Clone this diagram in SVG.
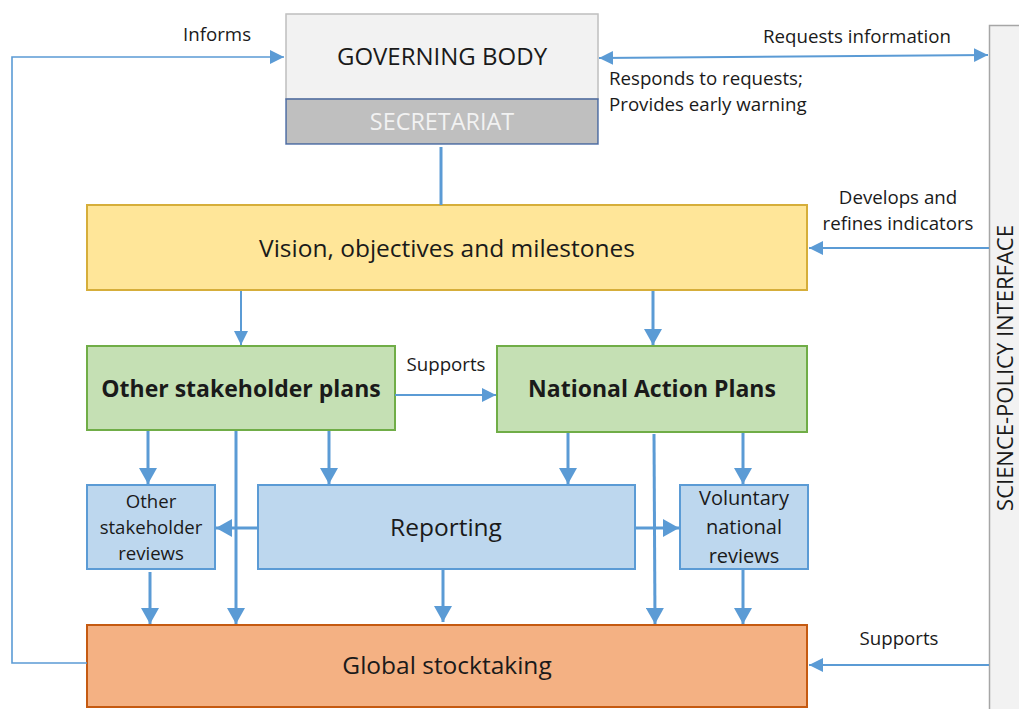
<svg xmlns="http://www.w3.org/2000/svg" width="1019" height="709" viewBox="0 0 1019 709">
  <style>
    text { font-family: "Open Sans", "Noto Sans", sans-serif; fill: #1a1a1a; }
    .lbl { font-size: 18.7px; }
    .node { font-size: 24.5px; text-anchor: middle; }
    .bold { font-weight: bold; font-size: 23px; }
    .small { font-size: 18.6px; text-anchor: middle; }
    .thick { stroke: #5B9BD5; stroke-width: 3; fill: none; }
    .thin { stroke: #5B9BD5; stroke-width: 2; fill: none; }
    .hair { stroke: #5B9BD5; stroke-width: 1.6; fill: none; }
  </style>
  <defs>
    <marker id="big" markerUnits="userSpaceOnUse" markerWidth="18" markerHeight="18" viewBox="0 0 18 18" refX="16" refY="9" orient="auto-start-reverse">
      <path d="M0,0 L16,9 L0,18 Z" fill="#5B9BD5"/>
    </marker>
    <marker id="mid" markerUnits="userSpaceOnUse" markerWidth="16" markerHeight="16" viewBox="0 0 16 16" refX="14" refY="8" orient="auto-start-reverse">
      <path d="M0,1 L14,8 L0,15 Z" fill="#5B9BD5"/>
    </marker>
  </defs>

  <!-- Science-policy interface band -->
  <g id="spi">
    <rect x="989.5" y="25.5" width="40" height="690" fill="#F2F2F2" stroke="#A6A6A6" stroke-width="1.5"/>
    <text class="node" style="font-size:22px" transform="translate(1013,368) rotate(-90)">SCIENCE-POLICY INTERFACE</text>
  </g>

  <!-- Governing body with secretariat -->
  <g id="governing-body">
    <rect x="286" y="14" width="312" height="85" fill="#F2F2F2" stroke="#BFBFBF" stroke-width="1.5"/>
    <text class="node" x="442" y="65" style="font-size:24px">GOVERNING BODY</text>
  </g>
  <g id="secretariat">
    <rect x="286" y="99" width="312" height="45" fill="#BFBFBF" stroke="#2F5597" stroke-width="1.5" stroke-opacity="0.8"/>
    <text class="node" x="442" y="130" style="fill:#F2F2F2;font-size:23.4px">SECRETARIAT</text>
  </g>

  <g id="vision">
    <rect x="87" y="205" width="720" height="85" fill="#FFE699" stroke="#D6AE3A" stroke-width="2"/>
    <text class="node" x="447" y="257">Vision, objectives and milestones</text>
  </g>

  <g id="other-plans">
    <rect x="87" y="346" width="308" height="84" fill="#C5E0B4" stroke="#70AD47" stroke-width="2"/>
    <text class="node bold" x="241" y="397">Other stakeholder plans</text>
  </g>

  <g id="national-plans">
    <rect x="497" y="346" width="310" height="86" fill="#C5E0B4" stroke="#70AD47" stroke-width="2"/>
    <text class="node bold" x="652" y="397">National Action Plans</text>
  </g>

  <g id="other-reviews">
    <rect x="87" y="485" width="128" height="84" fill="#BDD7EE" stroke="#5B9BD5" stroke-width="2"/>
    <text class="small" x="151" y="508">Other</text>
    <text class="small" x="151" y="534">stakeholder</text>
    <text class="small" x="151" y="560">reviews</text>
  </g>

  <g id="reporting">
    <rect x="258" y="485" width="377" height="84" fill="#BDD7EE" stroke="#5B9BD5" stroke-width="2"/>
    <text class="node" x="446" y="536">Reporting</text>
  </g>

  <g id="voluntary-reviews">
    <rect x="680" y="485" width="128" height="84" fill="#BDD7EE" stroke="#5B9BD5" stroke-width="2"/>
    <text class="small" x="744" y="505" style="font-size:20px">Voluntary</text>
    <text class="small" x="744" y="534" style="font-size:20px">national</text>
    <text class="small" x="744" y="563" style="font-size:20px">reviews</text>
  </g>

  <g id="global-stocktaking">
    <rect x="87" y="625" width="720" height="82" fill="#F4B183" stroke="#C55A11" stroke-width="2"/>
    <text class="node" x="447" y="674">Global stocktaking</text>
  </g>

  <!-- Connectors -->
  <g id="connectors">
    <!-- feedback loop from stocktaking to governing body -->
    <path class="hair" d="M87,663 H12 V57 H284" marker-end="url(#mid)"/>
    <!-- governing body <-> science-policy interface -->
    <path class="thin" d="M599,58 L988,55" marker-start="url(#mid)" marker-end="url(#mid)"/>
    <!-- secretariat to vision -->
    <path class="thick" d="M441,147 V205"/>
    <!-- science-policy interface to vision -->
    <path class="thin" d="M989,248 H809" marker-end="url(#mid)"/>
    <!-- vision to plans -->
    <path class="thin" d="M241,291 V345" marker-end="url(#mid)"/>
    <path class="thick" d="M653,291 V345" marker-end="url(#big)"/>
    <!-- other plans supports national plans -->
    <path class="thin" d="M395,395 H496" marker-end="url(#mid)"/>
    <!-- other plans downward -->
    <path class="thick" d="M148,431 V484" marker-end="url(#big)"/>
    <path class="thick" d="M236,431 V624" marker-end="url(#big)"/>
    <path class="thick" d="M329,431 V484" marker-end="url(#big)"/>
    <!-- national plans downward -->
    <path class="thick" d="M568,433 V484" marker-end="url(#big)"/>
    <path class="thick" d="M654,434 L655,624" marker-end="url(#big)"/>
    <path class="thick" d="M743,433 V484" marker-end="url(#big)"/>
    <!-- reporting to reviews -->
    <path class="thick" d="M257,528 H216" marker-end="url(#big)"/>
    <path class="thick" d="M636,528 H679" marker-end="url(#big)"/>
    <!-- into global stocktaking -->
    <path class="thick" d="M150,572 V624" marker-end="url(#big)"/>
    <path class="thick" d="M443,570 V622" marker-end="url(#big)"/>
    <path class="thick" d="M743,570 V624" marker-end="url(#big)"/>
    <!-- science-policy interface supports stocktaking -->
    <path class="thin" d="M989,665 H809" marker-end="url(#mid)"/>
  </g>

  <!-- Connector labels -->
  <g id="labels">
    <text class="lbl" x="183" y="41">Informs</text>
    <text class="lbl" x="763" y="43">Requests information</text>
    <text class="lbl" x="609" y="85">Responds to requests;</text>
    <text class="lbl" x="609" y="111">Provides early warning</text>
    <text class="lbl" x="898" y="204" text-anchor="middle">Develops and</text>
    <text class="lbl" x="898" y="230" text-anchor="middle">refines indicators</text>
    <text class="lbl" x="446" y="371" text-anchor="middle">Supports</text>
    <text class="lbl" x="899" y="645" text-anchor="middle">Supports</text>
  </g>
</svg>
